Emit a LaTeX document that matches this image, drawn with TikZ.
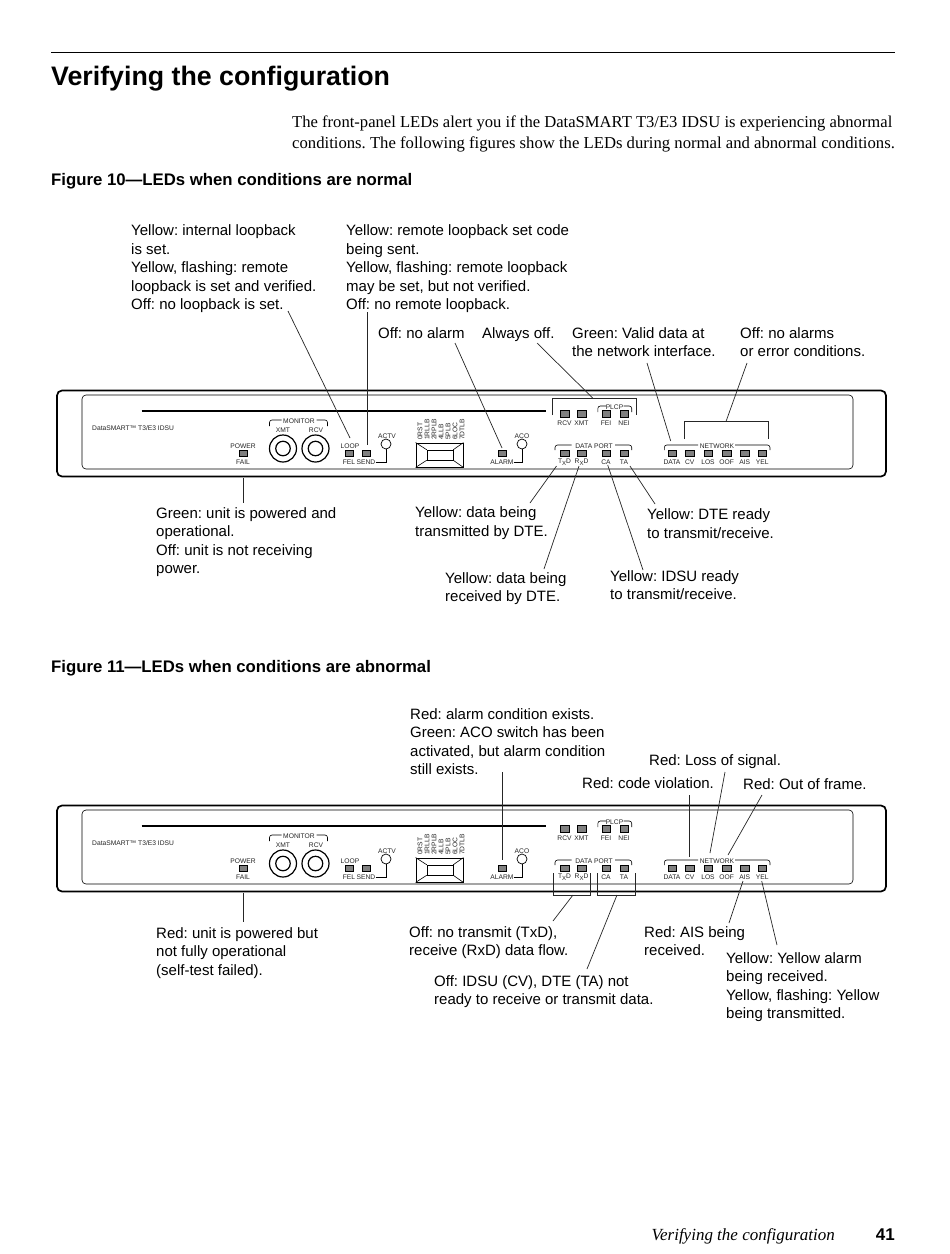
\documentclass[tikz,border=0pt]{standalone}
\usepackage{fontspec}
\setmainfont{Liberation Sans}
\newfontfamily\timesf{Liberation Serif}
\newcommand{\lowx}{\raisebox{-1.4pt}{\fontsize{6}{7}\selectfont X}}
\tikzset{
  panellabel/.style={inner sep=0pt,yshift=-.8pt,font=\fontsize{6.7}{7}\selectfont,text=black!85},
  led/.style={draw=black,line width=.5pt,fill=black!50,minimum width=8.5pt,minimum height=6.5pt,inner sep=0pt},
  lamp/.style={draw=black,line width=.7pt,fill=white,circle,minimum size=10pt,inner sep=0pt},
  jackout/.style={draw=black,line width=1.2pt,circle,minimum size=27pt,inner sep=0pt},
  jackin/.style={draw=black,line width=1.2pt,circle,minimum size=14.5pt,inner sep=0pt},
  thin line/.style={line width=.6pt},
  note/.style={anchor=north west,inner sep=0pt,align=left,font=\frenchspacing\fontsize{15}{18.6}\selectfont},
  lead/.style={line width=.7pt,black!85},
  grp/.style={line width=.9pt,black!85},
}
\newcommand{\brk}[6]{% left, inner-left, inner-right, right, top, bottom
  \draw[thin line,rounded corners=2.5pt] (#1,#6)--(#1,#5)--(#2,#5);
  \draw[thin line,rounded corners=2.5pt] (#3,#5)--(#4,#5)--(#4,#6);
}
\newcommand{\ledl}[5]{% prefix name x y(led) label
  \node[led] (#1#2) at (#3,#4) {};
  \node[panellabel] (#1#2t) at (#3,#4+8.5) {#5};
}
\newcommand{\ledu}[5]{% prefix name x y(led) label below at 9
  \node[led] (#1#2) at (#3,#4) {};
  \node[panellabel] (#1#2t) at (#3,#4+9) {#5};
}
\newcommand{\leadline}[4]{% name x,y  x,y with named ends
  \coordinate (#1a) at (#2);
  \coordinate (#1b) at (#3);
  \draw[#4] (#1a) -- (#1b);
}
\newcommand{\panel}[2]{%
\begin{scope}[shift={(0,#2)}]
  \node[draw=black,line width=1.7pt,rounded corners=5pt,minimum width=829pt,minimum height=86pt,inner sep=0pt] (#1outer) at (471.5,433.5) {};
  \node[draw=black,line width=.6pt,rounded corners=4pt,minimum width=771pt,minimum height=74pt,inner sep=0pt] (#1inner) at (467.5,432) {};
  \coordinate (#1sa) at (141.5,411);
  \coordinate (#1sb) at (546,411);
  \draw[line width=1.5pt] (#1sa) -- (#1sb);
  \node[panellabel,anchor=west] (#1brand) at (92,427) {DataSMART™ T3/E3 IDSU};
  \node[panellabel] (#1power) at (243,445) {POWER};
  \ledl{#1}{fail}{243}{453}{FAIL}
  \brk{269.5}{281.5}{316.5}{327.5}{420}{426}
  \node[panellabel] (#1mon) at (299,420) {MONITOR};
  \node[panellabel] (#1xmtl) at (283,429) {XMT};
  \node[panellabel] (#1rcvl) at (316,429) {RCV};
  \node[jackout] (#1j1) at (283,448.5) {}; \node[jackin] (#1j1i) at (283,448.5) {};
  \node[jackout] (#1j2) at (315.5,448.5) {}; \node[jackin] (#1j2i) at (315.5,448.5) {};
  \node[panellabel] (#1loop) at (350,445) {LOOP};
  \ledl{#1}{fel}{349}{453}{FEL}
  \ledl{#1}{send}{366}{453}{SEND}
  \node[panellabel] (#1actvl) at (387,435) {ACTV};
  \node[lamp] (#1actv) at (386,444) {};
  \draw[thin line] (#1sendt.east) -| (#1actv.south);
  \foreach \n/\xx/\t in {a/420/0RST,b/427/1RLLB,c/434/2RPLB,d/441/4LLB,e/448/5PLB,f/455/6LOC,g/462/7DTLB}{
    \node[panellabel,rotate=90,anchor=west] (#1rot\n) at (\xx,439.2) {\t};
  }
  \node[draw=black,line width=.9pt,minimum width=47pt,minimum height=24pt,inner sep=0pt] (#1disp) at (439.5,455) {};
  \node[draw=black,line width=.5pt,minimum width=26pt,minimum height=10pt,inner sep=0pt] (#1dispi) at (440,455) {};
  \draw[thin line] (#1disp.north west) -- (#1dispi.north west) (#1disp.north east) -- (#1dispi.north east)
    (#1disp.south west) -- (#1dispi.south west) (#1disp.south east) -- (#1dispi.south east);
  \ledl{#1}{alarm}{502}{453}{ALARM}
  \node[panellabel] (#1acol) at (522,435) {ACO};
  \node[lamp] (#1aco) at (522,444) {};
  \draw[thin line] (#1alarmt.east) -| (#1aco.south);
  \ledu{#1}{rcv}{564.5}{413.5}{RCV}
  \ledu{#1}{xmt}{581.5}{413.5}{XMT}
  \ledu{#1}{fei}{606}{413.5}{FEI}
  \ledu{#1}{nei}{624}{413.5}{NEI}
  \brk{597.8}{606}{623.5}{631.7}{406}{412}
  \node[panellabel] (#1plcp) at (614.5,406) {PLCP};
  \brk{555}{571.5}{615}{631.7}{445}{450}
  \node[panellabel] (#1dport) at (594,445) {DATA PORT};
  \ledl{#1}{txd}{564.5}{453}{T\lowx D}
  \ledl{#1}{rxd}{581.5}{453}{R\lowx D}
  \ledl{#1}{ca}{606}{453}{CA}
  \ledl{#1}{ta}{624}{453}{TA}
  \brk{664.3}{698}{735}{770}{445}{450}
  \node[panellabel] (#1net) at (717,445) {NETWORK};
  \ledl{#1}{data}{672}{453}{DATA}
  \ledl{#1}{cv}{689.8}{453}{CV}
  \ledl{#1}{los}{708}{453}{LOS}
  \ledl{#1}{oof}{726.7}{453}{OOF}
  \ledl{#1}{ais}{744.8}{453}{AIS}
  \ledl{#1}{yel}{762.3}{453}{YEL}
\end{scope}}
\begin{document}
\begin{tikzpicture}[x=1pt,y=-1pt]
\useasboundingbox (0,0) rectangle (950,1254);
\fill[white] (0,0) rectangle (950,1254);
% header
\coordinate (ra) at (51,52); \coordinate (rb) at (895,52);
\draw[line width=1pt] (ra) -- (rb);
\node[anchor=base west,inner sep=0pt,font=\fontsize{26.75}{30}\selectfont\bfseries] (title) at (51,85.5) {Verifying the configuration};
\node[anchor=base west,inner sep=0pt,font=\frenchspacing\timesf\fontsize{16.6}{21}\selectfont] (introa) at (292,127) {The front-panel LEDs alert you if the DataSMART T3/E3 IDSU is experiencing abnormal};
\node[anchor=base west,inner sep=0pt,font=\frenchspacing\timesf\fontsize{16.68}{21}\selectfont] (introb) at (292,148) {conditions. The following figures show the LEDs during normal and abnormal conditions.};
\node[anchor=base west,inner sep=0pt,font=\fontsize{16.75}{20}\selectfont\bfseries] (figa) at (51,185) {Figure 10—LEDs when conditions are normal};
\node[anchor=base west,inner sep=0pt,font=\fontsize{16.75}{20}\selectfont\bfseries] (figb) at (51,672) {Figure 11—LEDs when conditions are abnormal};

\panel{A}{0}
\panel{B}{415}

% Figure 10 notes
\node[note] (n1) at (131,224.5) {Yellow: internal loopback\\is set.\\Yellow, flashing: remote\\loopback is set and verified.\\Off: no loopback is set.};
\node[note] (n2) at (346,224.5) {Yellow: remote loopback set code\\being sent.\\Yellow, flashing: remote loopback\\may be set, but not verified.\\Off: no remote loopback.};
\node[note] (n3) at (378,327) {Off: no alarm};
\node[note] (n4) at (482,327) {Always off.};
\node[note] (n5) at (572,327) {Green: Valid data at\\the network interface.};
\node[note] (n6) at (740,327) {Off: no alarms\\or error conditions.};
\node[note] (n7) at (156,507) {Green: unit is powered and\\operational.\\Off: unit is not receiving\\power.};
\node[note] (n8) at (415,506.5) {Yellow: data being\\transmitted by DTE.};
\node[note] (n9) at (647,508.5) {Yellow: DTE ready\\to transmit/receive.};
\node[note] (n10) at (445,572) {Yellow: data being\\received by DTE.};
\node[note] (n11) at (610,570) {Yellow: IDSU ready\\to transmit/receive.};
% Figure 10 leads
\leadline{l1}{288,311}{350,438}{lead}
\leadline{l2}{367,312}{367,445}{lead}
\leadline{l3}{455,343}{502,448}{lead}
\leadline{l4}{537,343}{592.7,398}{lead}
\leadline{l5}{647,363}{670.7,441}{lead}
\leadline{l6}{747,363}{726,421.5}{lead}
\leadline{l7}{243,478}{243,503}{lead}
\leadline{l8}{556.5,466}{530,503}{lead}
\leadline{l9}{579,466}{544,569}{lead}
\leadline{l10}{607.7,465}{643,570}{lead}
\leadline{l11}{630,466}{655,504}{lead}
% Figure 10 group brackets
\coordinate (g1a) at (552.7,415); \coordinate (g1b) at (636.7,415);
\draw[grp] (g1a) -- (l4b -| g1a) -- (l4b -| g1b) -- (g1b);
\coordinate (g2a) at (684,439); \coordinate (g2b) at (768,439);
\draw[grp] (g2a) -- (l6b -| g2a) -- (l6b -| g2b) -- (g2b);

% Figure 11 notes
\node[note] (m1) at (410,708) {Red: alarm condition exists.\\Green: ACO switch has been\\activated, but alarm condition\\still exists.};
\node[note] (m2) at (649,754) {Red: Loss of signal.};
\node[note] (m3) at (582,777) {Red: code violation.};
\node[note] (m4) at (743,778) {Red: Out of frame.};
\node[note] (m5) at (156,927) {Red: unit is powered but\\not fully operational\\(self-test failed).};
\node[note] (m6) at (409,926) {Off: no transmit (TxD),\\receive (RxD) data flow.};
\node[note] (m7) at (434,975) {Off: IDSU (CV), DTE (TA) not\\ready to receive or transmit data.};
\node[note] (m8) at (644,926) {Red: AIS being\\received.};
\node[note] (m9) at (726,952) {Yellow: Yellow alarm\\being received.\\Yellow, flashing: Yellow\\being transmitted.};
% Figure 11 leads
\leadline{k1}{502.5,772}{502.5,860}{lead}
\leadline{k2}{725,772}{710,853}{lead}
\leadline{k3}{689,795}{689,857}{lead}
\leadline{k4}{762,795}{728,855}{lead}
\leadline{k5}{243,893}{243,922}{lead}
\leadline{k6}{573,895}{553,921}{lead}
\leadline{k7}{617,895}{587,969}{lead}
\leadline{k8}{743,881}{729,923}{lead}
\leadline{k9}{761.7,881}{777,945}{lead}
% Figure 11 group brackets
\coordinate (h1a) at (553.3,873); \coordinate (h1b) at (590.7,873);
\draw[grp] (h1a) -- (k6a -| h1a) -- (k6a -| h1b) -- (h1b);
\coordinate (h2a) at (597,873); \coordinate (h2b) at (635,873);
\draw[grp] (h2a) -- (k7a -| h2a) -- (k7a -| h2b) -- (h2b);

% footer
\node[anchor=base east,inner sep=0pt,font=\timesf\itshape\fontsize{17}{20}\selectfont] (foot) at (835,1240) {Verifying the configuration};
\node[anchor=base east,inner sep=0pt,font=\bfseries\fontsize{17}{20}\selectfont] (page) at (895,1240) {41};
\end{tikzpicture}
\end{document}
